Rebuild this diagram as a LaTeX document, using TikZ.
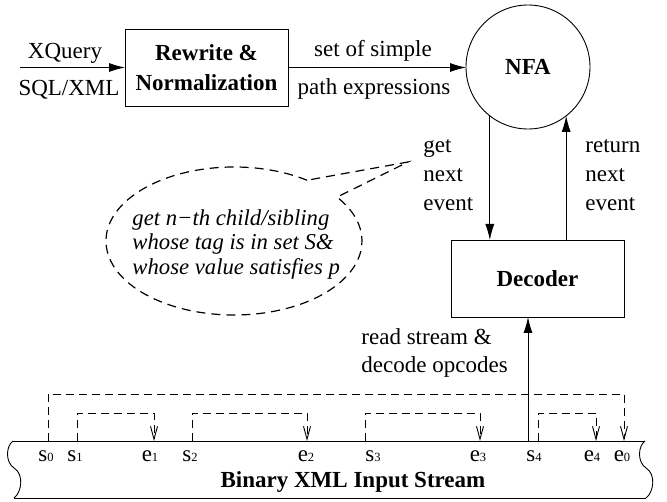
\documentclass[tikz,border=0pt]{standalone}
\usepackage{fontspec}
\setmainfont{Liberation Serif}
\usetikzlibrary{arrows.meta,calc}
\newcommand\mysub[1]{{\fontsize{12.5}{12.5}\selectfont #1}}
\begin{document}
\begin{tikzpicture}[x=1pt,y=1pt, line width=0.9pt,
  lbl/.style={font=\fontsize{23}{26}\selectfont, inner sep=0pt, anchor=base},
  lbll/.style={lbl, anchor=base west},
  itl/.style={font=\fontsize{22.7}{26}\selectfont\itshape, inner sep=0pt, anchor=base west},
  boxnode/.style={draw, rectangle, inner sep=0pt, outer sep=0pt, align=center, font=\fontsize{23}{30}\selectfont\bfseries},
  mainarrow/.style={-{Latex[length=16pt,width=9pt]}},
  dsh/.style={dash pattern=on 8pt off 5pt},
  bub/.style={line width=1.2pt, dash pattern=on 9pt off 6pt},
  jump/.style={dsh, -{Straight Barb[length=13pt,width=7pt]}}
]
\useasboundingbox (0,0) rectangle (667,-502);

% main boxes
\node[boxnode, minimum width=163pt, minimum height=77pt] (rw) at (206.5,-67.5) {Rewrite \&\\Normalization};
\node[draw, circle, minimum size=124pt, inner sep=0pt, outer sep=0pt, font=\fontsize{23}{26}\selectfont\bfseries] (nfa) at (528,-67) {NFA};
\node[boxnode, minimum width=173pt, minimum height=77pt] (dec) at (537.5,-278.5) {Decoder};

% input
\coordinate (in) at (20,-67.5);
\draw[mainarrow] (in) -- (rw.west);
\node[lbl] (xq) at (65,-59) {XQuery};
\node[lbl] (sql) at (69,-96) {SQL/XML};

% rewrite -> NFA
\draw[mainarrow] (rw.east) -- (rw.east -| nfa.west);
\node[lbl] (set) at (373,-57) {set of simple};
\node[lbl] (path) at (374,-95) {path expressions};

% NFA <-> decoder
\draw[mainarrow] (nfa.232) -- (nfa.232 |- dec.north);
\draw[mainarrow] (nfa.308 |- dec.north) -- (nfa.308);
\node[lbll] (g1) at (423,-153) {get};
\node[lbll] (g2) at (423,-182) {next};
\node[lbll] (g3) at (423,-211) {event};
\node[lbll] (r1) at (585,-153) {return};
\node[lbll] (r2) at (585,-182) {next};
\node[lbll] (r3) at (585,-211) {event};

% read arrow
\coordinate (rd) at (528,-441);
\draw[mainarrow] (rd) -- (rd |- dec.south);
\node[lbll] (rs1) at (361,-345) {read stream \&};
\node[lbll] (rs2) at (361,-373) {decode opcodes};

% thought bubble
\coordinate (bc) at (234,-241);
\coordinate (tip) at (408,-162);
\draw[bub] (bc) ++(55.2:128 and 74) arc[start angle=55.2, end angle=396.4, x radius=128, y radius=74] -- (tip) -- cycle;
\node[itl] (b1) at (132,-226) {get n−th child/sibling};
\node[itl] (b2) at (132,-250) {whose tag is in set S\&};
\node[itl] (b3) at (132,-275) {whose value satisfies p};

% stream band
\draw (13,-441) -- (645,-441);
\draw (14,-498) -- (646,-498);
\draw (13,-441) .. controls (6,-446) and (5,-462) .. (14,-468) .. controls (24,-474) and (22,-492) .. (14,-498);
\draw (645,-441) .. controls (638,-446) and (637,-462) .. (646,-468) .. controls (656,-474) and (654,-492) .. (646,-498);
\node[font=\fontsize{23}{26}\selectfont\bfseries, inner sep=0pt, anchor=base] (bx) at (353,-488) {Binary XML Input Stream};

% tick points
\coordinate (s0) at (48,-441);
\coordinate (s1) at (77,-441);
\coordinate (e1) at (154,-441);
\coordinate (s2) at (192,-441);
\coordinate (e2) at (307,-441);
\coordinate (s3) at (365,-441);
\coordinate (e3) at (480,-441);
\coordinate (s4) at (538,-441);
\coordinate (e4) at (596,-441);
\coordinate (e0) at (624,-441);

\draw[jump] (s0) -- ++(0,47) -| (e0);
\draw[jump] (s1) -- ++(0,28) -| (e1);
\draw[jump] (s2) -- ++(0,28) -| (e2);
\draw[jump] (s3) -- ++(0,28) -| (e3);
\draw[jump] (s4) -- ++(0,28) -| (e4);

\node[lbl] (ls0) at (46,-462) {s\mysub{0}};
\node[lbl] (ls1) at (75,-462) {s\mysub{1}};
\node[lbl] (le1) at (150,-462) {e\mysub{1}};
\node[lbl] (ls2) at (190,-462) {s\mysub{2}};
\node[lbl] (le2) at (306,-462) {e\mysub{2}};
\node[lbl] (ls3) at (373,-462) {s\mysub{3}};
\node[lbl] (le3) at (478,-462) {e\mysub{3}};
\node[lbl] (ls4) at (534,-462) {s\mysub{4}};
\node[lbl] (le4) at (592,-462) {e\mysub{4}};
\node[lbl] (le0) at (622,-462) {e\mysub{0}};
\end{tikzpicture}
\end{document}
